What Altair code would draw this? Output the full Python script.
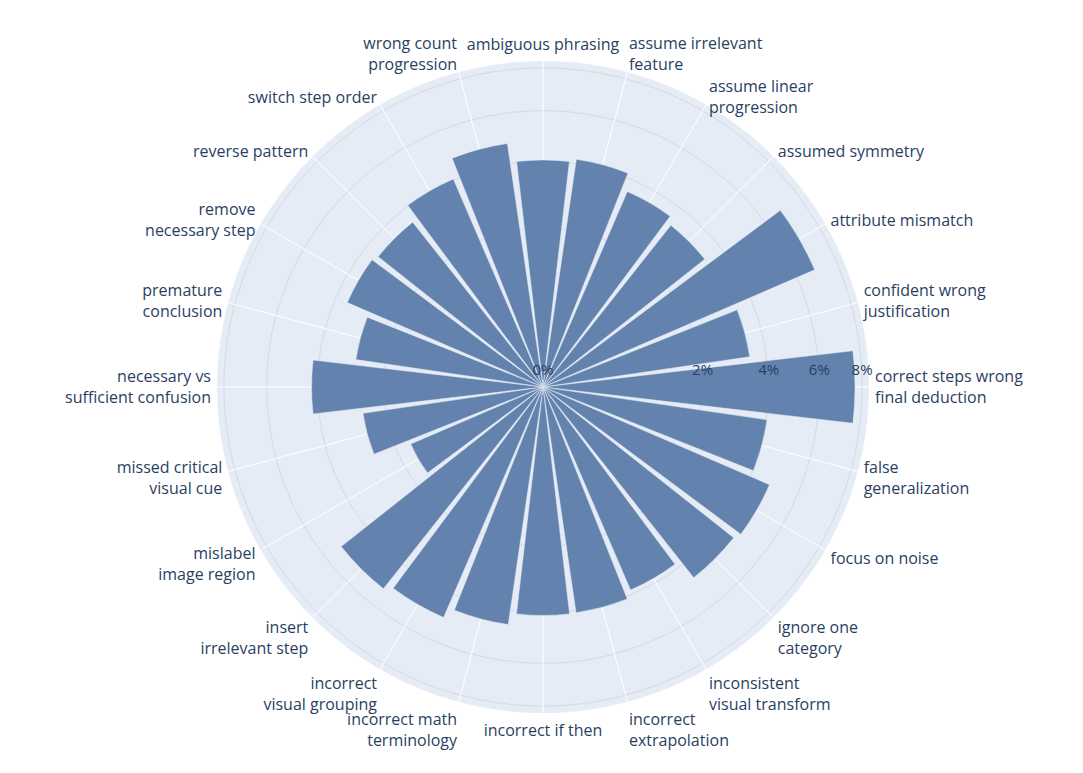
import math
import altair as alt
import pandas as pd

# ---- data ----
categories = [
    "ambiguous phrasing", "assume irrelevant feature", "assume linear progression",
    "assumed symmetry", "attribute mismatch", "confident wrong justification",
    "correct steps wrong final deduction", "false generalization", "focus on noise",
    "ignore one category", "inconsistent visual transform", "incorrect extrapolation",
    "incorrect if then", "incorrect math terminology", "incorrect visual grouping",
    "insert irrelevant step", "mislabel image region", "missed critical visual cue",
    "necessary vs sufficient confusion", "premature conclusion", "remove necessary step",
    "reverse pattern", "switch step order", "wrong count progression",
]
labels = [
    "ambiguous phrasing", "assume irrelevant\nfeature", "assume linear\nprogression",
    "assumed symmetry", "attribute mismatch", "confident wrong\njustification",
    "correct steps wrong\nfinal deduction", "false\ngeneralization", "focus on noise",
    "ignore one\ncategory", "inconsistent\nvisual transform", "incorrect\nextrapolation",
    "incorrect if then", "incorrect math\nterminology", "incorrect\nvisual grouping",
    "insert\nirrelevant step", "mislabel\nimage region", "missed critical\nvisual cue",
    "necessary vs\nsufficient confusion", "premature\nconclusion", "remove\nnecessary step",
    "reverse pattern", "switch step order", "wrong count\nprogression",
]
values = [
    4.05, 4.16, 3.56, 3.34, 6.88, 3.43,
    7.65, 4.03, 4.78, 4.64, 3.84, 4.09,
    4.10, 4.53, 4.95, 5.20, 1.63, 2.60,
    4.21, 2.81, 3.57, 3.47, 4.03, 4.76,
]
tick_values = [0, 2, 4, 6, 8]
tick_labels = ["0%", "2%", "4%", "6%", "8%"]

# ---- layout constants ----
CX, CY = 535, 379
R_OUT = 326
R_MAX = 8.35
LABEL_R = 332
LH = 21
N = len(categories)
FONT = "Open Sans"
TXT = "#2a3f5f"
BG = "#E5ECF6"
BAR = "#6383AE"
GRID = "#d3dae5"

df = pd.DataFrame({
    "idx": list(range(N)),
    "category": categories,
    "label": labels,
    "value": values,
    "nlines": [l.count("\n") + 1 for l in labels],
})

theta_scale = alt.Scale(domain=[0, N], range=[0, 2 * math.pi])
r_scale = alt.Scale(type="sqrt", domain=[0, R_MAX], range=[0, R_OUT], zero=True)
cx = alt.value(CX)
cy = alt.value(CY)

bg = alt.Chart(pd.DataFrame({"r": [R_MAX]})).mark_arc(
    theta=0, theta2=2 * math.pi, fill=BG
).encode(x=cx, y=cy, radius=alt.Radius("r:Q", scale=r_scale))

# circular gridlines: circle symbols whose area grows linearly with the value
# (so their radius follows the same square-root scale as the bars)
grid = alt.Chart(pd.DataFrame({"v": tick_values[1:]})).mark_point(
    shape="circle", filled=False, color=GRID, strokeWidth=1, opacity=1
).encode(
    x=cx, y=cy,
    size=alt.Size("v:Q", scale=alt.Scale(type="linear", domain=[0, R_MAX],
                                         range=[0, (2 * R_OUT) ** 2]), legend=None),
)

spokes = alt.Chart(df).transform_calculate(
    a=f"datum.idx * 2 * PI / {N}",
    x0=f"{CX}",
    y0=f"{CY}",
    x1=f"{CX} + {R_OUT} * sin(datum.a)",
    y1=f"{CY} - {R_OUT} * cos(datum.a)",
).mark_rule(color="white", strokeWidth=1).encode(
    x=alt.X("x0:Q", scale=None, axis=None),
    y=alt.Y("y0:Q", scale=None, axis=None),
    x2="x1:Q",
    y2="y1:Q",
)

bars = alt.Chart(df).transform_calculate(
    a0="datum.idx - 0.445", a1="datum.idx + 0.445"
).mark_arc(color=BAR, stroke=BG, strokeWidth=0.5).encode(
    x=cx, y=cy,
    theta=alt.Theta("a0:Q", scale=theta_scale, stack=None),
    theta2="a1:Q",
    radius=alt.Radius("value:Q", scale=r_scale),
    tooltip=["category:N", "value:Q"],
)

ticks = alt.Chart(pd.DataFrame({"v": tick_values, "t": tick_labels})).mark_text(
    font=FONT, fontSize=15, color=TXT, baseline="middle", align="center"
).encode(
    x=alt.X("v:Q", scale=alt.Scale(type="sqrt", domain=[0, R_MAX], range=[CX, CX + R_OUT]), axis=None),
    y=alt.value(362),
    text="t:N",
)

lab_base = alt.Chart(df).transform_calculate(
    a=f"datum.idx * 2 * PI / {N}",
    s="cos(datum.a)",
    h=f"datum.nlines * {LH}",
    ly=(f"{CY} - (datum.nlines - 1) * {LH} / 2 + "
        f"(datum.s < 0 ? -0.55 * datum.s * datum.h : -0.5 * datum.h * pow(datum.s, 16))"),
)


def label_layer(filt, align):
    return lab_base.transform_filter(filt).mark_text(
        font=FONT, fontSize=16, color=TXT, align=align, baseline="middle",
        lineBreak="\n", lineHeight=LH,
    ).encode(
        x=cx,
        y=alt.Y("ly:Q", scale=None, axis=None),
        theta=alt.Theta("idx:Q", scale=theta_scale, stack=None),
        radius=alt.value(LABEL_R),
        text="label:N",
    )


lab_right = label_layer(f"datum.idx > 0 && datum.idx < {N // 2}", "left")
lab_left = label_layer(f"datum.idx > {N // 2}", "right")
lab_mid = label_layer(f"datum.idx == 0 || datum.idx == {N // 2}", "center")

chart = alt.layer(
    bg, grid, spokes, bars, ticks, lab_right, lab_left, lab_mid
).resolve_scale(x="independent", y="independent").properties(
    width=1067, height=757, padding=0, autosize="none"
).configure_view(stroke=None)

chart.save("out.html", embed_options={"renderer": "svg", "actions": False})
